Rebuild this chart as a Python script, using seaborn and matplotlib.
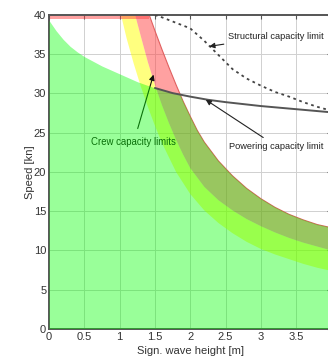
import numpy as np
import matplotlib
matplotlib.use("Agg")
import matplotlib.pyplot as plt
from matplotlib.patches import Polygon
import seaborn as sns

# ---- data (significant wave height [m] vs. speed [kn]) ----
# powering capacity limit (also upper edge of the operable region)
power_h = [0.0, 0.1, 0.2, 0.3, 0.4, 0.5, 0.75, 1.0, 1.25, 1.5, 1.75, 2.0, 2.25, 2.5, 3.0, 3.5, 4.0]
power_v = [39.3, 38.0, 36.9, 36.0, 35.3, 34.7, 33.5, 32.5, 31.5, 30.7, 30.05, 29.6, 29.2, 28.9, 28.4, 28.0, 27.6]

# structural capacity limit
struct_h = [1.5, 1.6, 1.8, 2.0, 2.2, 2.4, 2.6, 2.8, 3.0, 3.2, 3.4, 3.6, 3.8, 4.0]
struct_v = [40.0, 39.7, 39.0, 38.3, 36.7, 34.9, 33.1, 31.9, 31.0, 30.2, 29.6, 28.9, 28.3, 27.8]

# crew capacity limits: lower, middle and upper boundary curves
crew_low_h = [1.02, 1.1, 1.2, 1.3, 1.4, 1.5, 1.6, 1.8, 2.0, 2.2, 2.4, 2.6, 2.8, 3.0, 3.2, 3.4, 3.6, 3.8, 4.0]
crew_low_v = [40.0, 37.0, 33.8, 30.9, 28.3, 25.9, 23.7, 20.0, 17.2, 15.1, 13.5, 12.2, 11.1, 10.2, 9.5, 8.9, 8.3, 7.8, 7.4]

crew_mid_h = [1.22, 1.3, 1.4, 1.5, 1.6, 1.7, 1.8, 1.9, 2.0, 2.2, 2.4, 2.6, 2.8, 3.0, 3.2, 3.4, 3.6, 3.8, 4.0]
crew_mid_v = [40.0, 37.3, 34.0, 31.1, 28.5, 26.2, 24.1, 22.2, 20.5, 18.1, 16.4, 15.1, 14.0, 13.1, 12.3, 11.6, 11.0, 10.5, 10.0]

crew_high_h = [1.42, 1.5, 1.6, 1.7, 1.8, 1.9, 2.0, 2.1, 2.2, 2.4, 2.6, 2.8, 3.0, 3.2, 3.4, 3.6, 3.8, 4.0]
crew_high_v = [40.0, 38.0, 35.6, 33.3, 31.1, 29.0, 27.1, 25.3, 23.8, 21.4, 19.5, 17.9, 16.6, 15.5, 14.6, 13.9, 13.3, 12.9]

x_ticks = [0, 0.5, 1, 1.5, 2, 2.5, 3, 3.5]
x_tick_labels = ["0", "0.5", "1", "1.5", "2", "2.5", "3", "3.5"]
y_ticks = [0, 5, 10, 15, 20, 25, 30, 35, 40]

# ---- style ----
sns.set_theme(style="white")
plt.rcParams["font.family"] = ["Liberation Sans", "DejaVu Sans"]

fig = plt.figure(figsize=(3.28, 3.62), dpi=100)
ax = fig.add_axes([0.1494, 0.0912, 0.861, 0.8674])
ax.set_xlim(0, 4)
ax.set_ylim(0, 40)

# grid underneath everything
for t in np.arange(0.5, 4.0, 0.5):
    ax.axvline(t, color="#d0d0d0", lw=0.7, zorder=0.5)
for t in y_ticks[1:-1]:
    ax.axhline(t, color="#d0d0d0", lw=0.7, zorder=0.5)

# crew capacity bands
yellow_poly = list(zip(crew_low_h, crew_low_v)) + list(zip(crew_mid_h, crew_mid_v))[::-1]
red_poly = list(zip(crew_mid_h, crew_mid_v)) + list(zip(crew_high_h, crew_high_v))[::-1]
ax.fill([p[0] for p in yellow_poly], [p[1] for p in yellow_poly],
        color="#FFFF00", alpha=0.5, lw=0, zorder=1)
ax.fill([p[0] for p in red_poly], [p[1] for p in red_poly],
        color="#FF4545", alpha=0.5, lw=0, zorder=1)
ax.fill_between([0, crew_high_h[0]], 39.5, 40, color="#FF4545", alpha=0.5, lw=0, zorder=1)
ax.plot(crew_high_h, crew_high_v, color="#e06060", lw=0.8, zorder=1.2)

# label for the crew limits sits under the green overlay
ax.annotate("Crew capacity limits", xy=(1.48, 32.4), xytext=(1.20, 23.8),
            ha="center", va="center", fontsize=6.9, color="#111111", zorder=2,
            arrowprops=dict(arrowstyle="-|>", color="#111111", lw=0.8,
                            mutation_scale=8, shrinkA=4, shrinkB=0))

# operable region: below powering limit and left of the upper crew limit
clip_pts = [(0, 0), (0, 41)] + list(zip(crew_high_h, crew_high_v)) + [(4.2, crew_high_v[-1]), (4.2, 0)]
clip = Polygon(clip_pts, closed=True, transform=ax.transData, facecolor="none", edgecolor="none")
ax.add_patch(clip)
green = ax.fill_between(power_h, 0, power_v, color="#00FF00", alpha=0.4, lw=0, zorder=3)
green.set_clip_path(clip)

# limit lines
ph = [h for h in power_h if h >= 1.5]
pv = [v for h, v in zip(power_h, power_v) if h >= 1.5]
sns.lineplot(x=ph, y=pv, ax=ax, color="#555555", lw=1.4, zorder=4, sort=False)
sns.lineplot(x=struct_h, y=struct_v, ax=ax, color="#444444", lw=1.3, zorder=4,
             sort=False, linestyle=(0, (1.5, 2.0)))

ax.annotate("Structural capacity limit", xy=(2.27, 36.0), xytext=(2.54, 37.3),
            ha="left", va="center", fontsize=6.7, color="#222222", zorder=5,
            arrowprops=dict(arrowstyle="-|>", color="#222222", lw=0.8,
                            mutation_scale=8, shrinkA=1, shrinkB=0))
ax.annotate("Powering capacity limit", xy=(2.22, 29.2), xytext=(2.55, 23.3),
            ha="left", va="center", fontsize=6.7, color="#222222", zorder=5,
            arrowprops=dict(arrowstyle="-|>", color="#222222", lw=0.8,
                            mutation_scale=8, shrinkA=1, shrinkB=0))

# axes, ticks and labels
ax.set_xticks(x_ticks)
ax.set_xticklabels(x_tick_labels)
ax.set_yticks(y_ticks)
ax.tick_params(direction="in", length=3, width=0.8, color="#555555",
               labelsize=8, labelcolor="#333333", top=True, right=True, pad=2)
for s in ax.spines.values():
    s.set_color("#555555")
    s.set_linewidth(1.4)
    s.set_zorder(2.5)
ax.set_xlabel("Sign. wave height [m]", fontsize=8, color="#333333", labelpad=3)
ax.set_ylabel("Speed [kn]", fontsize=8, color="#333333", labelpad=-1)

fig.savefig("out.png", dpi=100)
